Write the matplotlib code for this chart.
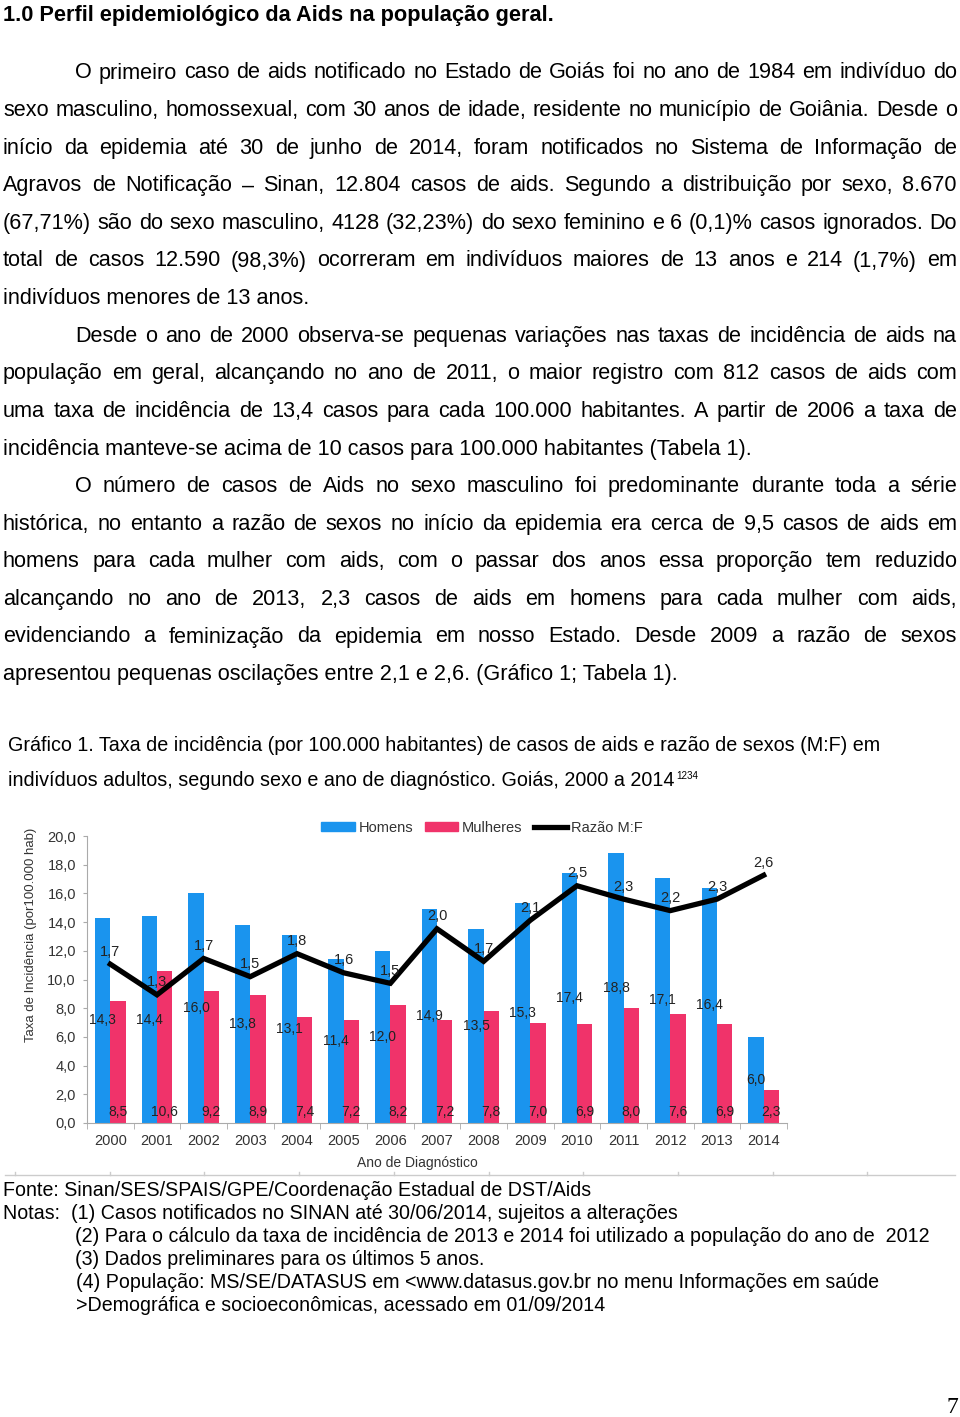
import matplotlib
matplotlib.use("Agg")
import matplotlib.pyplot as plt
import numpy as np
from matplotlib import font_manager
from matplotlib.lines import Line2D
from matplotlib.patches import Patch

# ---- chart data (Gráfico 1) ----
anos = ["2000", "2001", "2002", "2003", "2004", "2005", "2006", "2007",
        "2008", "2009", "2010", "2011", "2012", "2013", "2014"]
homens = [14.3, 14.4, 16.0, 13.8, 13.1, 11.4, 12.0, 14.9, 13.5, 15.3, 17.4, 18.8, 17.1, 16.4, 6.0]
mulheres = [8.5, 10.6, 9.2, 8.9, 7.4, 7.2, 8.2, 7.2, 7.8, 7.0, 6.9, 8.0, 7.6, 6.9, 2.3]
razao = [1.66, 1.34, 1.72, 1.53, 1.77, 1.57, 1.46, 2.03, 1.69, 2.12, 2.48, 2.34, 2.22, 2.34, 2.59]
yticks = [0, 2, 4, 6, 8, 10, 12, 14, 16, 18, 20]

heading = "1.0 Perfil epidemiológico da Aids na população geral."
paragraphs = [
    ["O primeiro caso de aids notificado no Estado de Goiás foi no ano de 1984 em indivíduo do",
     "sexo masculino, homossexual, com 30 anos de idade, residente no município de Goiânia. Desde o",
     "início da epidemia até 30 de junho de 2014, foram notificados no Sistema de Informação de",
     "Agravos de Notificação – Sinan, 12.804 casos de aids. Segundo a distribuição por sexo, 8.670",
     "(67,71%) são do sexo masculino, 4128 (32,23%) do sexo feminino e 6 (0,1)% casos ignorados. Do",
     "total de casos 12.590 (98,3%) ocorreram em indivíduos maiores de 13 anos e 214 (1,7%) em",
     "indivíduos menores de 13 anos."],
    ["Desde o ano de 2000 observa-se pequenas variações nas taxas de incidência de aids na",
     "população em geral, alcançando no ano de 2011, o maior registro com 812 casos de aids com",
     "uma taxa de incidência de 13,4 casos para cada 100.000 habitantes. A partir de 2006 a taxa de",
     "incidência manteve-se acima de 10 casos para 100.000 habitantes (Tabela 1)."],
    ["O número de casos de Aids no sexo masculino foi predominante durante toda a série",
     "histórica, no entanto a razão de sexos no início da epidemia era cerca de 9,5 casos de aids em",
     "homens para cada mulher com  aids, com o passar dos anos essa proporção tem reduzido",
     "alcançando no ano de 2013, 2,3 casos de aids em homens para cada mulher com aids,",
     "evidenciando a feminização da epidemia em nosso Estado. Desde 2009 a razão de sexos",
     "apresentou pequenas oscilações entre 2,1 e 2,6. (Gráfico 1; Tabela 1)."],
]
caption = ["Gráfico 1. Taxa de incidência (por 100.000 habitantes) de casos de aids e razão de sexos (M:F) em",
           "indivíduos adultos, segundo sexo e ano de diagnóstico. Goiás, 2000 a 2014"]
notes = [
    (3, "Fonte: Sinan/SES/SPAIS/GPE/Coordenação Estadual de DST/Aids"),
    (3, "Notas:  (1) Casos notificados no SINAN até 30/06/2014, sujeitos a alterações"),
    (75, "(2) Para o cálculo da taxa de incidência de 2013 e 2014 foi utilizado a população do ano de  2012"),
    (75, "(3) Dados preliminares para os últimos 5 anos."),
    (76, "(4) População: MS/SE/DATASUS em <www.datasus.gov.br no menu Informações em saúde"),
    (76, ">Demográfica e socioeconômicas, acessado em 01/09/2014"),
]

W, H = 960, 1417
sans = "Liberation Sans"
installed = {f.name for f in font_manager.fontManager.ttflist}
narrow = "Liberation Sans Narrow" if "Liberation Sans Narrow" in installed else sans

fig = plt.figure(figsize=(W / 100, H / 100), dpi=100)
renderer = fig.canvas.get_renderer()


def text_width(s, **kw):
    t = fig.text(0, 0, s, **kw)
    w = t.get_window_extent(renderer).width
    t.remove()
    return w


def fit_size(s, target, **kw):
    return 10 * target / text_width(s, fontsize=10, **kw)


def put_line(s, x0, y, size, x1=None, **kw):
    if x1 is None:
        fig.text(x0 / W, 1 - y / H, s, fontsize=size, va="baseline", ha="left", **kw)
        return
    words = s.split()
    widths = [text_width(w, fontsize=size, **kw) for w in words]
    gap = (x1 - x0 - sum(widths)) / (len(words) - 1)
    x = x0
    for w, wd in zip(words, widths):
        fig.text(x / W, 1 - y / H, w, fontsize=size, va="baseline", ha="left", **kw)
        x += wd + gap


# ---- page text ----
body = fit_size("indivíduos menores de 13 anos.", 308, family=sans)
head = fit_size(heading, 550, family=sans, weight="bold")
put_line(heading, 3, 21, head, family=sans, weight="bold")

k = 0
for para in paragraphs:
    for i, line in enumerate(para):
        y = 78.5 + 37.6 * k
        x0 = 75 if i == 0 else 3
        last = i == len(para) - 1
        put_line(line, x0, y, body, None if last else 957, family=sans)
        k += 1

cap = fit_size(caption[0], 872, family=narrow)
put_line(caption[0], 8, 751, cap, family=narrow)
put_line(caption[1], 8, 786, cap, family=narrow)
cw = text_width(caption[1], fontsize=cap, family=narrow)
fig.text((8 + cw + 2) / W, 1 - 779 / H, "1234", fontsize=cap * 0.5, family=narrow,
         va="baseline", ha="left")

nsize = fit_size(notes[2][1], 855, family=narrow)
for j, (x0, line) in enumerate(notes):
    put_line(line, x0, 1196 + 23 * j, nsize, family=narrow)

fig.text(958 / W, 1 - 1413 / H, "7", fontsize=17, family="Liberation Serif",
         ha="right", va="baseline")

# separator line under the chart
sep_y = 1 - 1175 / H
fig.add_artist(Line2D([5 / W, 955 / W], [sep_y, sep_y], transform=fig.transFigure,
                      color="#cccccc", lw=1))
for xt in np.arange(15, 955, 94.7):
    fig.add_artist(Line2D([xt / W, xt / W], [sep_y, sep_y + 3 / H], transform=fig.transFigure,
                          color="#cccccc", lw=1))

# ---- chart ----
blue = "#1a94ee"
pink = "#f0336a"
grey = "#aaaaaa"
txt = "#333333"

ax = fig.add_axes([87 / W, 1 - 1123 / H, 700 / W, 287 / H])
x = np.arange(len(anos))
bw = 0.33
ax.bar(x - bw / 2, homens, bw, color=blue)
ax.bar(x + bw / 2, mulheres, bw, color=pink)
ax.set_xlim(-0.5, len(anos) - 0.5)
ax.set_ylim(0, 20)

for xi, v in zip(x, homens):
    ax.text(xi - bw / 2, v / 2, f"{v:.1f}".replace(".", ","), ha="center", va="center",
            fontsize=10, color="#222222", family=sans)
for xi, v in zip(x, mulheres):
    ax.text(xi + bw / 2, 0.8, f"{v:.1f}".replace(".", ","), ha="center", va="center",
            fontsize=10, color="#222222", family=sans)

ax.set_yticks(yticks)
ax.set_yticklabels([f"{v:.1f}".replace(".", ",") for v in yticks], family=sans,
                   fontsize=10.5, color=txt)
ax.set_xticks(x)
ax.set_xticklabels(anos, family=sans, fontsize=10.5, color=txt)
ax.set_xticks(np.arange(-0.5, len(anos)), minor=True)
ax.tick_params(axis="x", which="major", length=0, pad=8)
ax.tick_params(axis="x", which="minor", length=4, color=grey, direction="out")
ax.tick_params(axis="y", length=3, color=grey, pad=5)
for s in ["top", "right"]:
    ax.spines[s].set_visible(False)
for s in ["left", "bottom"]:
    ax.spines[s].set_color(grey)

ax.set_ylabel("Taxa de Incidência (por100.000 hab)", family=sans, fontsize=9.5, color=txt)
ax.yaxis.set_label_coords(-(87 - 37) / 700, 0.655)
ax.set_xlabel("Ano de Diagnóstico", family=sans, fontsize=10, color=txt)
ax.xaxis.set_label_coords((417 - 87) / 700, -(1156 - 1123) / 287)

ax2 = ax.twinx()
ax2.set_ylim(0, 3)
ax2.axis("off")
ax2.plot(x, razao, color="black", lw=3.8, solid_joinstyle="miter")
for xi, v in zip(x, razao):
    ax2.annotate(f"{v:.1f}".replace(".", ","), (xi, v), xytext=(0, 9), textcoords="offset points",
                 ha="center", va="center", fontsize=10.5, color="#222222", family=sans)

handles = [Patch(color=blue), Patch(color=pink), Line2D([], [], color="black", lw=3.8)]
leg = ax.legend(handles, ["Homens", "Mulheres", "Razão M:F"], ncol=3, frameon=False,
                loc="center", bbox_to_anchor=((482 - 87) / 700, (1123 - 828) / 287),
                prop={"family": sans, "size": 10.5}, handlelength=2.3, handleheight=0.6,
                handletextpad=0.25, columnspacing=0.8, borderpad=0, borderaxespad=0)
for t in leg.get_texts():
    t.set_color(txt)

fig.savefig("out.png", dpi=100)
